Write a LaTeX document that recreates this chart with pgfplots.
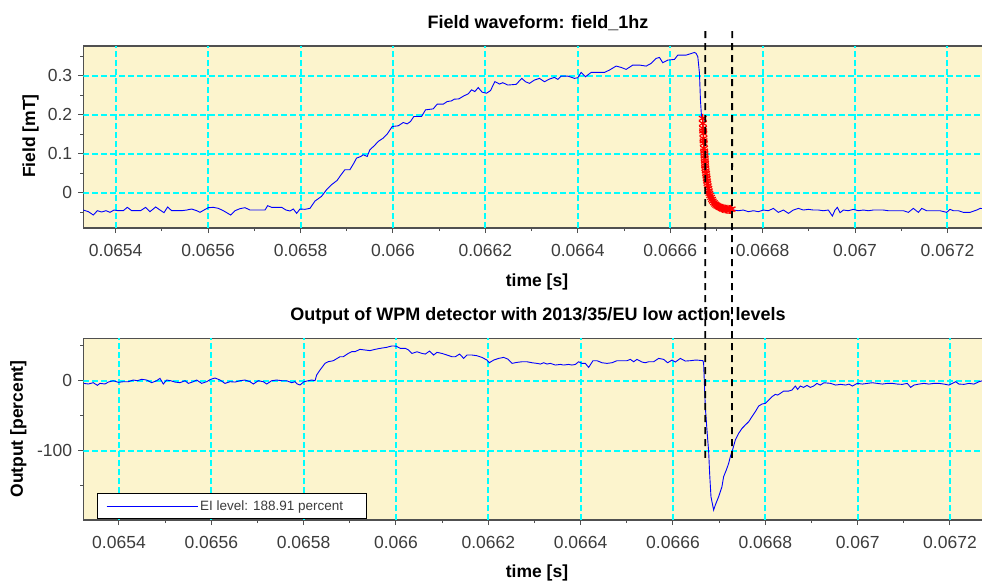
\documentclass[border=0pt]{standalone}
\usepackage{fontspec}
\setmainfont{Liberation Sans}
\usepackage{pgfplots}
\pgfplotsset{compat=1.18}
\usepackage{pgfplotstable}

\definecolor{bgyellow}{RGB}{252,244,205}
\definecolor{gridcyan}{RGB}{0,255,255}
\definecolor{frame}{RGB}{80,80,80}
\definecolor{ticktext}{RGB}{60,60,60}

\tikzset{gridline/.style={gridcyan, line width=2bp, dash pattern=on 6bp off 3bp}}

% field waveform (time [s], field [mT])
\pgfplotstableread{
t v
0.065330 -0.0444
0.0653408 -0.0486
0.0653516 -0.0572
0.0653603 -0.0461
0.0653696 -0.0495
0.065379 -0.0461
0.0653877 -0.0503
0.0653963 -0.0444
0.0654057 -0.0461
0.0654165 -0.0461
0.0654252 -0.0375
0.0654346 -0.0461
0.0654454 -0.0461
0.065454 -0.0461
0.0654648 -0.0375
0.0654742 -0.0486
0.0654865 -0.0366
0.0654959 -0.0444
0.0655045 -0.0512
0.0655124 -0.0366
0.0655211 -0.0461
0.0655319 -0.0461
0.0655427 -0.0461
0.0655536 -0.0444
0.0655644 -0.0418
0.0655752 -0.0461
0.0655824 -0.0503
0.0655911 -0.0444
0.0656004 -0.0384
0.0656113 -0.0375
0.0656221 -0.0401
0.0656329 -0.0461
0.0656488 -0.0572
0.0656582 -0.0461
0.065669 -0.0409
0.0656798 -0.0384
0.0656906 -0.0444
0.0657014 -0.0444
0.0657122 -0.0444
0.0657231 -0.0444
0.0657288 -0.0333
0.0657375 -0.0375
0.0657483 -0.0375
0.0657591 -0.0375
0.0657685 -0.0444
0.0657772 -0.0469
0.0657844 -0.0418
0.0657916 -0.0529
0.0657988 -0.0418
0.0658096 -0.0426
0.0658204 -0.0401
0.0658313 -0.0213
0.0658454 -0.0094
0.0658563 0.0077
0.0658671 0.0205
0.0658793 0.0316
0.0658851 0.0418
0.0658959 0.0589
0.0659068 0.0589
0.0659154 0.0759
0.0659212 0.0887
0.0659306 0.0930
0.0659356 0.0973
0.0659443 0.0930
0.06595 0.1101
0.0659594 0.1203
0.0659681 0.1314
0.0659789 0.1399
0.0659875 0.1502
0.0659984 0.1698
0.0660113 0.1715
0.0660222 0.1800
0.0660308 0.1766
0.066038 0.1826
0.0660452 0.1954
0.0660618 0.1954
0.0660705 0.2125
0.0660871 0.2150
0.0660957 0.2270
0.0661087 0.2270
0.0661174 0.2338
0.0661268 0.2355
0.0661325 0.2398
0.0661426 0.2406
0.0661534 0.2483
0.0661628 0.2534
0.06617 0.2637
0.0661772 0.2594
0.0661845 0.2696
0.0661931 0.2577
0.0662025 0.2551
0.0662111 0.2619
0.0662205 0.2850
0.0662305 0.2787
0.0662377 0.2821
0.0662485 0.2761
0.0662666 0.2778
0.0662788 0.2932
0.0662868 0.2846
0.0662954 0.2804
0.0663062 0.2889
0.0663171 0.2932
0.0663279 0.2846
0.0663387 0.2915
0.0663495 0.2957
0.0663567 0.2906
0.0663639 0.2991
0.0663784 0.2991
0.0663928 0.2932
0.0664 0.2949
0.0664072 0.3085
0.0664166 0.2974
0.0664289 0.3085
0.0664433 0.3085
0.0664577 0.3085
0.0664685 0.3145
0.0664829 0.3247
0.0664938 0.3213
0.0665046 0.3162
0.066519 0.3273
0.0665334 0.3273
0.0665479 0.3247
0.0665587 0.3316
0.0665695 0.3444
0.0665767 0.3469
0.0665839 0.3333
0.0665948 0.3401
0.0666092 0.3418
0.0666164 0.3529
0.0666344 0.3529
0.0666416 0.3555
0.0666525 0.3597
0.0666561 0.3572
0.0666597 0.3486
0.0666633 0.3060
0.0666654 0.2377
0.0666676 0.1968
0.0666703 0.1906
0.066671 0.1650
0.0666717 0.1520
0.0666725 0.1265
0.0666732 0.1137
0.0666739 0.1009
0.0666746 0.0880
0.0666753 0.0752
0.066676 0.0624
0.0666775 0.0496
0.0666789 0.0368
0.0666804 0.0239
0.0666826 0.0111
0.0666847 -0.0017
0.0666884 -0.0120
0.066692 -0.0214
0.066697 -0.0291
0.066702 -0.0342
0.0667078 -0.0376
0.0667136 -0.0402
0.0667193 -0.0419
0.0667251 -0.0427
0.0667309 -0.0427
0.066733 -0.0419
0.0667366 -0.0444
0.0667475 -0.0462
0.0667583 -0.0444
0.0667691 -0.0487
0.06678 -0.0462
0.0667908 -0.0487
0.0668016 -0.0444
0.0668124 -0.0462
0.0668232 -0.0402
0.066834 -0.0504
0.0668449 -0.0444
0.0668557 -0.0530
0.0668665 -0.0444
0.0668773 -0.0402
0.0668881 -0.0444
0.066899 -0.0427
0.0669098 -0.0444
0.0669206 -0.0444
0.0669314 -0.0462
0.0669422 -0.0444
0.0669509 -0.0598
0.0669567 -0.0444
0.0669617 -0.0376
0.0669675 -0.0513
0.0669747 -0.0444
0.0669855 -0.0462
0.0669963 -0.0427
0.0670071 -0.0462
0.067018 -0.0444
0.0670288 -0.0462
0.0670396 -0.0444
0.0670504 -0.0444
0.0670612 -0.0444
0.067072 -0.0462
0.0670829 -0.0462
0.0670937 -0.0462
0.0671045 -0.0462
0.0671153 -0.0504
0.0671261 -0.0402
0.067137 -0.0504
0.0671442 -0.0402
0.067155 -0.0462
0.0671694 -0.0462
0.0671838 -0.0462
0.0671983 -0.0504
0.0672055 -0.0427
0.0672127 -0.0462
0.0672235 -0.0462
0.0672343 -0.0504
0.0672488 -0.0504
0.0672632 -0.0444
0.0672704 -0.0402
0.06729 -0.0420
}\fieldtab

% samples marked in red (falling edge)
\pgfplotstableread{
t v
0.0666703 0.1906
0.0666706 0.1778
0.066671 0.1650
0.0666713 0.1585
0.0666717 0.1520
0.0666719 0.1390
0.0666722 0.1330
0.0666725 0.1265
0.0666732 0.1137
0.0666735 0.1070
0.0666739 0.1009
0.0666742 0.0945
0.0666746 0.0880
0.0666749 0.0815
0.0666753 0.0752
0.0666756 0.0690
0.066676 0.0624
0.0666768 0.0560
0.0666775 0.0496
0.0666782 0.0430
0.0666789 0.0368
0.0666796 0.0300
0.0666804 0.0239
0.0666815 0.0175
0.0666826 0.0111
0.0666836 0.0045
0.0666847 -0.0017
0.0666865 -0.0070
0.0666884 -0.0120
0.0666902 -0.0170
0.066692 -0.0214
0.0666945 -0.0255
0.066697 -0.0291
0.0666995 -0.0320
0.066702 -0.0342
0.0667049 -0.0360
0.0667078 -0.0376
0.0667107 -0.0390
0.0667136 -0.0402
0.0667165 -0.0412
0.0667193 -0.0419
0.0667222 -0.0424
0.0667251 -0.0427
0.066728 -0.0428
0.0667309 -0.0427
0.066733 -0.0419
}\redtab

% detector output (time [s], percent)
\pgfplotstableread{
t v
0.0653242 -3.8
0.0653336 -4.7
0.0653444 -2.8
0.0653531 -6.6
0.0653588 -3.8
0.0653697 -4.7
0.0653769 -1.9
0.0653877 0.0
0.0653986 -2.3
0.0654094 -1.4
0.0654202 -1.4
0.065431 1.0
0.0654397 0.0
0.0654491 2.0
0.0654599 1.0
0.0654708 -2.8
0.0654816 0.0
0.0654888 3.4
0.065496 -4.7
0.0655033 1.0
0.0655119 0.0
0.0655213 -1.9
0.0655321 -2.8
0.065543 0.0
0.0655502 -3.8
0.065561 -1.4
0.0655682 1.0
0.0655791 -3.8
0.0655899 -1.4
0.0655986 2.0
0.065608 3.9
0.0656188 1.0
0.0656296 -3.8
0.0656404 -1.4
0.0656513 -1.9
0.0656621 0.0
0.0656729 1.0
0.0656838 -1.4
0.065691 -4.7
0.0657018 0.0
0.0657127 -1.4
0.0657199 -4.7
0.0657307 0.0
0.0657415 1.0
0.0657524 0.0
0.0657632 0.0
0.065774 -2.8
0.0657812 -1.4
0.0657863 -4.7
0.0657921 -6.1
0.0658007 -1.4
0.0658101 0.0
0.0658173 1.0
0.0658246 0.0
0.0658282 8.1
0.0658354 15.3
0.0658462 24.8
0.0658535 27.2
0.0658643 28.6
0.0658729 32.0
0.0658787 34.3
0.0658859 34.3
0.0658968 39.1
0.065904 41.5
0.0659112 41.5
0.065922 44.8
0.0659329 43.9
0.0659437 43.0
0.0659545 44.8
0.0659654 46.2
0.0659798 47.7
0.0659906 49.6
0.066 49.5
0.0660094 46.2
0.0660202 46.2
0.0660274 43.8
0.0660347 39.0
0.0660455 41.4
0.0660563 39.0
0.0660635 38.1
0.0660729 42.4
0.0660816 36.7
0.0660888 40.5
0.0660996 39.0
0.0661105 36.7
0.0661213 34.3
0.0661285 34.3
0.0661379 38.1
0.0661466 31.9
0.0661538 36.7
0.0661646 36.7
0.0661755 35.7
0.0661863 33.3
0.0661971 29.5
0.0662022 25.7
0.0662116 29.5
0.0662224 31.9
0.0662332 33.3
0.0662419 31.0
0.0662513 24.8
0.0662621 26.2
0.0662729 27.1
0.0662838 27.1
0.0662946 25.7
0.0663054 24.8
0.0663127 23.8
0.0663199 25.7
0.0663271 23.8
0.0663343 24.8
0.0663451 22.4
0.066356 23.3
0.0663632 22.4
0.066374 23.3
0.0663812 22.4
0.0663885 23.3
0.0663957 27.1
0.0664029 24.8
0.0664101 24.8
0.0664173 19.0
0.0664267 28.6
0.0664354 28.6
0.0664462 25.7
0.0664571 24.8
0.0664679 25.7
0.0664787 28.6
0.0664896 28.6
0.0665004 28.6
0.0665076 30.5
0.0665148 27.1
0.066522 30.5
0.0665329 26.7
0.0665401 25.7
0.0665473 27.1
0.0665581 27.1
0.066569 31.9
0.0665798 30.5
0.0665885 25.7
0.0665979 29.5
0.0666051 26.7
0.0666159 31.9
0.0666267 28.1
0.0666376 28.6
0.0666484 29.5
0.066652 29.5
0.066665 28.6
0.0666664 24.8
0.0666679 -1.4
0.06667 -37.1
0.0666736 -70.5
0.0666773 -101.4
0.0666794 -132.4
0.0666823 -165.7
0.0666881 -184.8
0.0666917 -177.6
0.0666989 -165.7
0.0667061 -151.4
0.0667097 -137.1
0.0667155 -127.6
0.0667206 -118.1
0.0667242 -108.6
0.06673 -96.7
0.066735 -84.8
0.0667422 -75.2
0.0667495 -68.1
0.0667567 -63.3
0.0667639 -58.6
0.0667711 -51.4
0.0667783 -44.3
0.0667856 -36.2
0.0667928 -33.3
0.0668 -32.4
0.0668072 -27.6
0.0668144 -22.9
0.0668217 -19.5
0.0668267 -20.5
0.0668325 -18.1
0.0668397 -14.8
0.0668505 -14.8
0.0668578 -13.3
0.066865 -7.6
0.06687 -12.4
0.0668758 -7.6
0.066883 -9.5
0.0668903 -6.7
0.0668975 -9.5
0.0669047 -7.6
0.0669119 -3.8
0.0669191 -6.2
0.0669271 -2.9
0.0669415 -3.8
0.0669524 -6.2
0.0669632 -5.2
0.066974 -6.2
0.0669812 -4.8
0.0669885 -7.6
0.0669993 -3.8
0.0670101 -4.8
0.067021 -3.8
0.0670318 -2.9
0.0670426 -3.8
0.0670534 -4.8
0.0670643 -3.8
0.0670751 -3.8
0.0670859 -4.8
0.0670968 -5.2
0.0671076 -3.8
0.0671148 -9.5
0.067122 -6.2
0.0671329 -4.8
0.0671437 -3.8
0.0671545 -4.8
0.0671654 -3.8
0.0671762 -3.8
0.067187 -4.8
0.0671979 -6.2
0.0672051 -3.8
0.0672123 -1.4
0.0672195 -4.8
0.0672303 -5.2
0.0672412 -3.8
0.067252 -4.8
0.0672628 -1.4
0.0672708 0.0
0.06729 0.0
}\outtab

\pgfplotsset{
  scope/.style={
    scale only axis,
    width=906.7bp,
    height=182bp,
    axis background/.style={fill=bgyellow},
    axis line style={frame, line width=1.2bp},
    grid=none,
    tick align=outside,
    xtick pos=lower, ytick pos=left,
    major tick length=5bp, minor tick length=3bp,
    tick style={frame, line width=1bp, solid},
    scaled x ticks=false, scaled y ticks=false,
    xtick={0.0654,0.0656,0.0658,0.066,0.0662,0.0664,0.0666,0.0668,0.067,0.0672},
    xticklabels={0.0654,0.0656,0.0658,0.066,0.0662,0.0664,0.0666,0.0668,0.067,0.0672},
    minor xtick={0.0655,0.0657,0.0659,0.0661,0.0663,0.0665,0.0667,0.0669,0.0671},
    ticklabel style={font=\fontsize{17.5bp}{20bp}\selectfont, text=ticktext, inner sep=0pt},
    xticklabel style={anchor=north, yshift=-11bp},
    yticklabel style={anchor=east, xshift=-6bp},
    title style={font=\bfseries\fontsize{18bp}{21bp}\selectfont},
    label style={font=\bfseries\fontsize{17.5bp}{20bp}\selectfont},
    /pgf/number format/assume math mode=true,
  },
}

\begin{document}
\begin{tikzpicture}

\begin{axis}[
  scope,
  at={(83.3bp,-46bp)}, anchor=north west,
  xmin=0.0653299, xmax=0.067292,
  ymin=-0.0905, ymax=0.3762,
  ytick={0,0.1,0.2,0.3},
  yticklabels={0,0.1,0.2,0.3},
  minor ytick={-0.05,0.05,0.15,0.25,0.35},
  title={Field waveform: field\_1hz},
  title style={at={(0.5015,1.093)}, anchor=center},
  xlabel={time [s]},
  xlabel style={at={(0.5004,-0.296)}, anchor=center},
  ylabel={Field [mT]},
  ylabel style={at={(-0.0582,0.5055)}, anchor=center},
]
\pgfplotsinvokeforeach{0.0654,0.0656,0.0658,0.066,0.0662,0.0664,0.0666,0.0668,0.067,0.0672}{
  \draw[gridline] ({axis cs:#1,0} |- {rel axis cs:0,0}) -- ({axis cs:#1,0} |- {rel axis cs:0,1});}
\pgfplotsinvokeforeach{0,0.1,0.2,0.3}{
  \draw[gridline] ({rel axis cs:0,0} |- {axis cs:0.066,#1}) -- ({rel axis cs:1,0} |- {axis cs:0.066,#1});}
\addplot[blue, line width=0.9bp] table[x=t, y=v] {\fieldtab};
\addplot[only marks, red, mark=asterisk, mark size=4.4bp, mark options={line width=1.2bp}] table[x=t, y=v] {\redtab};
\coordinate (a1) at (axis cs:0.066676,0.4146);
\coordinate (a2) at (axis cs:0.066734,0.4146);
\end{axis}

\begin{axis}[
  scope,
  at={(83.3bp,-338.3bp)}, anchor=north west,
  height=181.7bp,
  xmin=0.0653227, xmax=0.0672867,
  ymin=-199, ymax=60.6,
  ytick={-100,0},
  yticklabels={-100,0},
  minor ytick={-150,-50,50},
  title={Output of WPM detector with 2013/35/EU low action levels},
  title style={at={(0.5015,1.088)}, anchor=center},
  xlabel={time [s]},
  xlabel style={at={(0.5004,-0.294)}, anchor=center},
  ylabel={Output [percent]},
  ylabel style={at={(-0.0717,0.5008)}, anchor=center},
  legend style={at={(0.0148,0.0039)}, anchor=south west, draw=black,
    line width=0.8bp, fill=white, text=ticktext,
    inner xsep=9bp, inner ysep=5bp,
    /tikz/every even column/.append style={column sep=16bp}},
  legend image code/.code={\draw[blue, line width=0.9bp] (0bp,0bp) -- (91bp,0bp);},
  legend cell align=left,
]
\pgfplotsinvokeforeach{0.0654,0.0656,0.0658,0.066,0.0662,0.0664,0.0666,0.0668,0.067,0.0672}{
  \draw[gridline] ({axis cs:#1,0} |- {rel axis cs:0,0}) -- ({axis cs:#1,0} |- {rel axis cs:0,1});}
\pgfplotsinvokeforeach{-100,0}{
  \draw[gridline] ({rel axis cs:0,0} |- {axis cs:0.066,#1}) -- ({rel axis cs:1,0} |- {axis cs:0.066,#1});}
\addplot[blue, line width=0.9bp] table[x=t, y=v] {\outtab};
\addlegendentry{\fontsize{13.5bp}{15bp}\selectfont EI level: 188.91 percent\hspace*{12bp}}
\coordinate (b1) at (axis cs:0.06667,-110.4);
\coordinate (b2) at (axis cs:0.0667278,-110.4);
\end{axis}

\draw[black, line width=1.8bp, dash pattern=on 7bp off 5bp] (a1) -- (b1);
\draw[black, line width=1.8bp, dash pattern=on 7bp off 5bp] (a2) -- (b2);

\pgfresetboundingbox
\path[use as bounding box] (0bp,0bp) rectangle (982bp,-582bp);
\end{tikzpicture}
\end{document}
